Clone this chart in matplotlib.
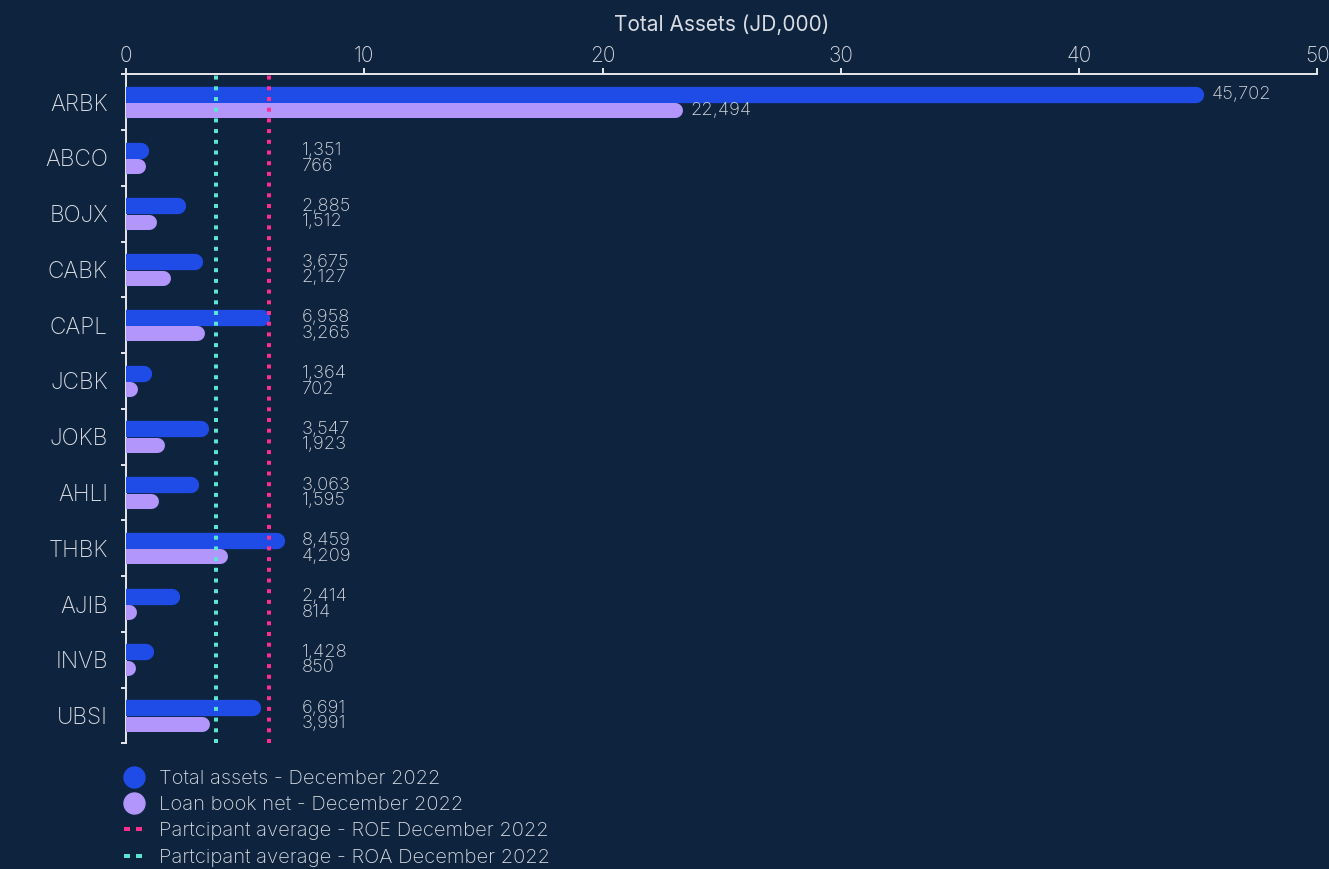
import matplotlib
matplotlib.use("Agg")
import matplotlib.pyplot as plt
from matplotlib.lines import Line2D

# ---- data ----
banks = ["ARBK", "ABCO", "BOJX", "CABK", "CAPL", "JCBK", "JOKB", "AHLI",
         "THBK", "AJIB", "INVB", "UBSI"]
# bar lengths as drawn (axis units)
total_assets_bar = [45.24, 0.97, 2.52, 3.22, 6.07, 1.10, 3.47, 3.09, 6.70, 2.27, 1.19, 5.68]
loan_book_bar = [23.36, 0.80, 1.29, 1.87, 3.29, 0.49, 1.61, 1.37, 4.24, 0.42, 0.41, 3.51]
# printed value labels
total_assets_lbl = ["45,702", "1,351", "2,885", "3,675", "6,958", "1,364", "3,547", "3,063",
                    "8,459", "2,414", "1,428", "6,691"]
loan_book_lbl = ["22,494", "766", "1,512", "2,127", "3,265", "702", "1,923", "1,595",
                 "4,209", "814", "850", "3,991"]
roe_avg = 6.01
roa_avg = 3.79
x_ticks = [0, 10, 20, 30, 40, 50]

# ---- style ----
BG = "#0e233d"
BLUE = "#1f4ce6"
LAV = "#b296fc"
PINK = "#ff2e8c"
CYAN = "#5ce6d2"
TXT = "#d8dce2"
SPINE = "#e6e8eb"

plt.rcParams["font.family"] = ["Inter", "DejaVu Sans"]
plt.rcParams["font.weight"] = "light"
plt.rcParams["lines.scale_dashes"] = False

W, H = 1329, 869
fig = plt.figure(figsize=(W / 100, H / 100), dpi=100, facecolor=BG)
ax_left, ax_right, ax_top, ax_bot = 126, 1317.3, 74.3, 743.4
ax = fig.add_axes([ax_left / W, 1 - ax_bot / H, (ax_right - ax_left) / W, (ax_bot - ax_top) / H])
ax.set_facecolor(BG)

n = len(banks)
ax.set_xlim(0, 50)
ax.set_ylim(n - 0.5, -0.5)

px_per_x = (ax_right - ax_left) / 50.0
px_per_y = (ax_bot - ax_top) / n
pt = 0.72  # points per pixel at dpi 100

tot_th, loan_th = 16.3, 15.0           # bar thickness px
tot_off, loan_off = -7.35, 8.15        # centre offsets px

for i in range(n):
    yc = i + tot_off / px_per_y
    r = tot_th / 2 / px_per_x
    ax.plot([0, max(total_assets_bar[i] - r, 0.0)], [yc, yc], color=BLUE,
            lw=tot_th * pt, solid_capstyle="round", zorder=3)
    yl = i + loan_off / px_per_y
    r2 = loan_th / 2 / px_per_x
    ax.plot([0, max(loan_book_bar[i] - r2, 0.0)], [yl, yl], color=LAV,
            lw=loan_th * pt, solid_capstyle="round", zorder=3)

    fixed_x = 7.37
    pad = 8 / px_per_x
    xt = max(total_assets_bar[i] + pad, fixed_x)
    xl = max(loan_book_bar[i] + pad, fixed_x)
    ax.text(xt, yc, total_assets_lbl[i], color=TXT, fontsize=13.2, va="center", ha="left", zorder=5)
    ax.text(xl, yl, loan_book_lbl[i], color=TXT, fontsize=13.2, va="center", ha="left", zorder=5)

dot = (0, (4 * pt, 6.7 * pt))
ax.axvline(roa_avg, color=CYAN, lw=4 * pt, linestyle=dot, zorder=4)
ax.axvline(roe_avg, color=PINK, lw=4 * pt, linestyle=dot, zorder=4)

for s in ["right", "bottom"]:
    ax.spines[s].set_visible(False)
for s in ["top", "left"]:
    ax.spines[s].set_color(SPINE)
    ax.spines[s].set_linewidth(1.4)

ax.xaxis.tick_top()
ax.set_xticks(x_ticks)
ax.set_xticklabels([str(t) for t in x_ticks])
ax.tick_params(axis="x", which="major", top=True, bottom=False, length=6 * pt, width=1.4,
               color=SPINE, labelcolor=TXT, labelsize=15, pad=2)
ax.xaxis.set_label_position("top")
ax.set_xlabel("Total Assets (JD,000)", color=TXT, fontsize=15, labelpad=10.5)

ax.set_yticks(range(n))
ax.set_yticklabels(banks)
ax.set_yticks([i - 0.5 for i in range(n + 1)], minor=True)
ax.tick_params(axis="y", which="major", length=0, labelcolor=TXT, labelsize=16.3, pad=13)
ax.tick_params(axis="y", which="minor", length=5 * pt, width=1.4, color=SPINE)

handles = [
    Line2D([], [], marker="o", linestyle="none", markersize=21 * pt, color=BLUE),
    Line2D([], [], marker="o", linestyle="none", markersize=21 * pt, color=LAV),
    Line2D([], [], color=PINK, lw=4 * pt, linestyle=(0, (6 * pt, 6 * pt))),
    Line2D([], [], color=CYAN, lw=4 * pt, linestyle=(0, (6 * pt, 6 * pt))),
]
labels = ["Total assets - December 2022", "Loan book net - December 2022",
          "Partcipant average - ROE December 2022", "Partcipant average - ROA December 2022"]
leg = fig.legend(handles, labels, loc="upper left", bbox_to_anchor=(124 / W, 1 - 770 / H),
                 frameon=False, fontsize=14.5, labelcolor=TXT, handlelength=0.95,
                 handletextpad=0.8, labelspacing=0.4, borderpad=0, borderaxespad=0)

fig.savefig("out.png", dpi=100, facecolor=BG)
